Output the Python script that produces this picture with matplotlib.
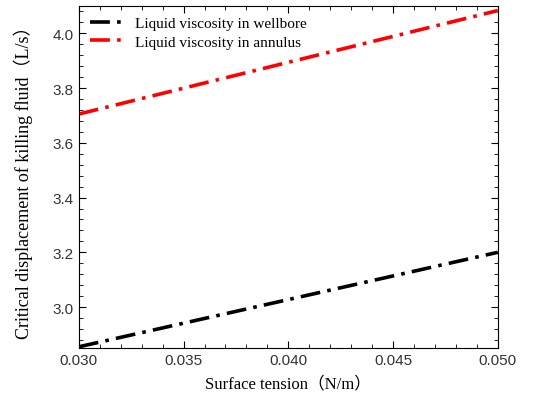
import numpy as np
import matplotlib
matplotlib.use('agg')
import matplotlib.pyplot as plt
from matplotlib.ticker import MultipleLocator, FormatStrFormatter

# data
tension = [0.030, 0.050]
q_wellbore = [2.855, 3.20]
q_annulus = [3.705, 4.083]

serif = ['Liberation Serif', 'Noto Sans CJK SC']
dashdot = (0, (5.5, 2, 1, 2))

fig = plt.figure(figsize=(5.44, 4.06), dpi=100)
ax = fig.add_axes([0.145, 0.140, 0.770, 0.843])

ax.plot(tension, q_wellbore, color='black', lw=2.6, linestyle=dashdot,
        label='Liquid viscosity in wellbore')
ax.plot(tension, q_annulus, color='red', lw=2.6, linestyle=dashdot,
        label='Liquid viscosity in annulus')

ax.set_xlim(0.030, 0.050)
ax.set_ylim(2.85, 4.10)
ax.xaxis.set_major_locator(MultipleLocator(0.005))
ax.xaxis.set_minor_locator(MultipleLocator(0.001))
ax.yaxis.set_major_locator(MultipleLocator(0.2))
ax.yaxis.set_minor_locator(MultipleLocator(0.04))
ax.xaxis.set_major_formatter(FormatStrFormatter('%.3f'))
ax.yaxis.set_major_formatter(FormatStrFormatter('%.1f'))
ax.tick_params(which='both', direction='in', top=True, right=True)
ax.tick_params(which='major', length=5, labelsize=11)
ax.tick_params(which='minor', length=3)
for lab in ax.get_xticklabels() + ax.get_yticklabels():
    lab.set_family('Liberation Sans')
    lab.set_color('#333333')

ax.set_xlabel('Surface tension（N/m）', family=serif, fontsize=12, labelpad=6)
ax.set_ylabel('Critical displacement of killing fluid（L/s）', family=serif,
              fontsize=13, labelpad=14)

leg = ax.legend(loc='upper left', frameon=False, prop={'family': serif, 'size': 11},
                handlelength=2.2, borderaxespad=0.3, labelspacing=0.3)

plt.savefig('out.png', dpi=100)
